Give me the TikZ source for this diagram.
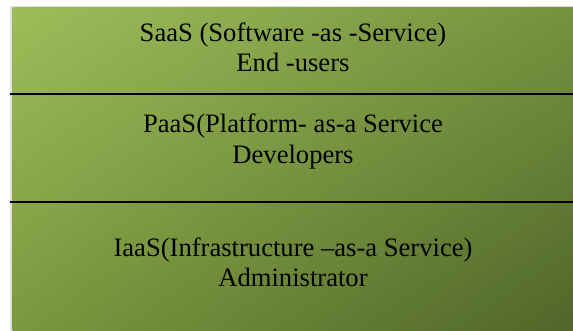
\documentclass[tikz,border=0pt]{standalone}
\usepackage{fontspec}
\setmainfont{Liberation Serif}
\usetikzlibrary{shadings}
\definecolor{gTL}{RGB}{157,189,90}
\definecolor{gTR}{RGB}{118,146,62}
\definecolor{gBL}{RGB}{122,152,62}
\definecolor{gBR}{RGB}{80,102,42}
\definecolor{edgegray}{RGB}{225,225,225}
\begin{document}
\begin{tikzpicture}[x=1pt,y=1pt,
  lbl/.style={inner sep=0pt, anchor=base, font=\rmfamily\fontsize{26.6}{30}\selectfont, text=black},
  divider/.style={line width=1.6pt, black}]
\useasboundingbox (0,0) rectangle (573,331);
\fill[white] (0,0) rectangle (573,331);
\fill[edgegray] (10,0) rectangle (573,325);
\shade[upper left=gTL, upper right=gTR, lower left=gBL, lower right=gBR] (12.7,0) rectangle (573,323.5);
\coordinate (d1l) at (10,237);
\coordinate (d1r) at (573,237);
\coordinate (d2l) at (10,129);
\coordinate (d2r) at (573,129);
\draw[divider] (d1l) -- (d1r);
\draw[divider] (d2l) -- (d2r);
\node[lbl] (saas) at (293,289) {SaaS (Software -as -Service)};
\node[lbl] (saasu) at (293,259) {End -users};
\node[lbl] (paas) at (293,198) {PaaS(Platform- as-a Service};
\node[lbl] (paasu) at (293,167) {Developers};
\node[lbl] (iaas) at (293,74) {IaaS(Infrastructure –as-a Service)};
\node[lbl] (iaasu) at (293,44) {Administrator};
\end{tikzpicture}
\end{document}
